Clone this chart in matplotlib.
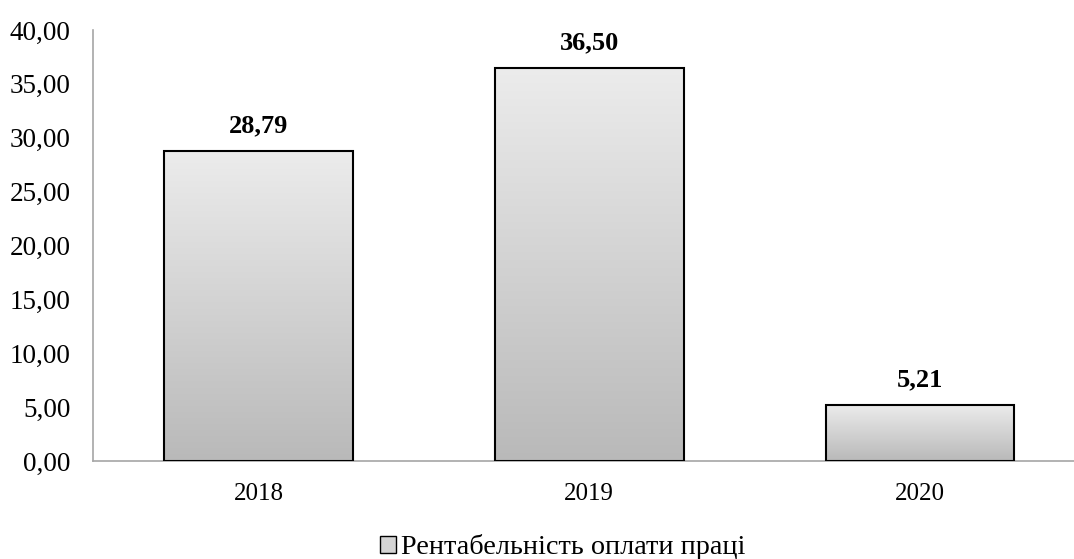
import numpy as np
import matplotlib.pyplot as plt
from matplotlib.patches import Patch
from matplotlib.colors import LinearSegmentedColormap

# data
years = ["2018", "2019", "2020"]
values = [28.79, 36.50, 5.21]
series_name = "Рентабельність оплати праці"

plt.rcParams["font.family"] = ["Liberation Serif", "DejaVu Serif"]

fig = plt.figure(figsize=(10.74, 5.59), dpi=100)
ax = fig.add_axes([93 / 1074, 1 - 461 / 559, (1074 - 93) / 1074, (461 - 30) / 559])

x = np.arange(len(years))
bars = ax.bar(x, values, width=0.57, color="none", edgecolor="black", linewidth=1.5, zorder=3)

# vertical grey gradient inside each bar
cmap = LinearSegmentedColormap.from_list("g", ["#b9b9b9", "#ececec"])
grad = np.linspace(0, 1, 256).reshape(-1, 1)
for b in bars:
    x0, y0 = b.get_x(), b.get_y()
    w, h = b.get_width(), b.get_height()
    im = ax.imshow(grad, cmap=cmap, extent=[x0, x0 + w, y0, y0 + h],
                   origin="lower", aspect="auto", zorder=2)
    im.set_clip_path(b)

for xi, v in zip(x, values):
    ax.annotate(f"{v:.2f}".replace(".", ","), (xi, v), xytext=(0, 18), textcoords="offset points",
                ha="center", va="center", fontsize=19, fontweight="bold")

ax.set_xlim(-0.5, 2.465)
ax.set_ylim(0, 40)
ax.set_yticks(np.arange(0, 41, 5))
ax.set_yticklabels([f"{t:.2f}".replace(".", ",") for t in np.arange(0, 41, 5)])
ax.set_xticks(x)
ax.set_xticklabels(years)
ax.tick_params(axis="both", length=0)
ax.tick_params(axis="y", pad=16, labelsize=19.5)
ax.tick_params(axis="x", pad=16, labelsize=18)

for s in ["top", "right"]:
    ax.spines[s].set_visible(False)
for s in ["left", "bottom"]:
    ax.spines[s].set_color("#a6a6a6")
    ax.spines[s].set_linewidth(1.2)

handle = Patch(facecolor="#d4d4d4", edgecolor="black", linewidth=1.0)
fig.legend([handle], [series_name], loc="center", bbox_to_anchor=(0.524, 1 - 547 / 559), frameon=False,
           fontsize=20.3, handlelength=0.55, handleheight=0.55, handletextpad=0.2)

fig.savefig("out.png", dpi=100)
